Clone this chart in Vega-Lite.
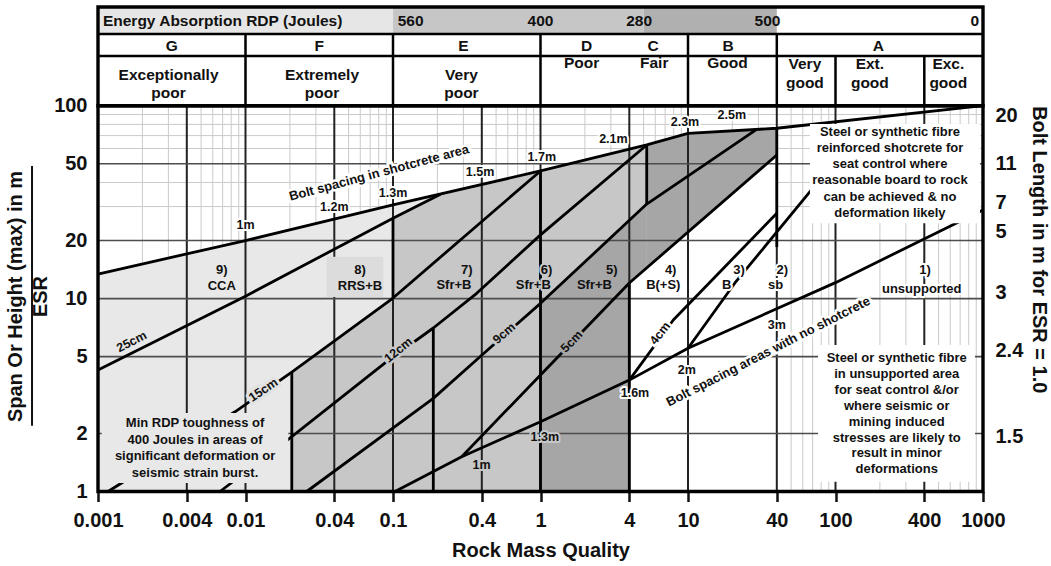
{
"$schema":"https://vega.github.io/schema/vega-lite/v6.json",
"width":885,"height":484.5,
"autosize":{"type":"none"},
"padding":{"left":98,"top":7,"right":68,"bottom":74.5},
"background":"white",
"config":{
 "view":{"stroke":null},
 "text":{"font":"Liberation Sans","fontWeight":"bold","fontSize":13,"align":"center","baseline":"middle","color":"#111"},
 "axis":{"labelFont":"Liberation Sans","labelFontWeight":"bold","labelFontSize":20,"labelColor":"#111","titleFont":"Liberation Sans","titleFontWeight":"bold","titleFontSize":20,"titleColor":"#111","grid":false,"domain":false}
},
"datasets":{
 "minorX":[{"Q":0.002},{"Q":0.003},{"Q":0.005},{"Q":0.006},{"Q":0.007},{"Q":0.008},{"Q":0.009},{"Q":0.02},{"Q":0.03},{"Q":0.05},{"Q":0.06},{"Q":0.07},{"Q":0.08},{"Q":0.09},{"Q":0.2},{"Q":0.3},{"Q":0.5},{"Q":0.6},{"Q":0.7},{"Q":0.8},{"Q":0.9},{"Q":2},{"Q":3},{"Q":5},{"Q":6},{"Q":7},{"Q":8},{"Q":9},{"Q":20},{"Q":30},{"Q":50},{"Q":60},{"Q":70},{"Q":80},{"Q":90},{"Q":200},{"Q":300},{"Q":500},{"Q":600},{"Q":700},{"Q":800},{"Q":900}],
 "majorX":[{"Q":0.004},{"Q":0.01},{"Q":0.04},{"Q":0.1},{"Q":0.4},{"Q":1},{"Q":4},{"Q":10},{"Q":40},{"Q":100},{"Q":400}],
 "minorY":[{"S":30},{"S":40},{"S":60},{"S":70},{"S":80},{"S":90}],
 "majorY":[{"S":2},{"S":5},{"S":10},{"S":20},{"S":50}],
 "lines":[
  {"id":"U","i":0,"Q":0.001,"S":13.41},{"id":"U","i":1,"Q":0.01,"S":20},{"id":"U","i":2,"Q":0.1,"S":30.6},{"id":"U","i":3,"Q":1,"S":45.9},{"id":"U","i":4,"Q":5.25,"S":62.6},{"id":"U","i":5,"Q":10,"S":71.9},{"id":"U","i":6,"Q":40,"S":76.4},{"id":"U","i":7,"Q":1000,"S":100},
  {"id":"L25","i":0,"Q":0.001,"S":4.26},{"id":"L25","i":1,"Q":0.01,"S":10.3},{"id":"L25","i":2,"Q":0.1,"S":26.1},{"id":"L25","i":3,"Q":0.21,"S":34.8},
  {"id":"L15","i":0,"Q":0.00117,"S":1},{"id":"L15","i":1,"Q":0.00849,"S":2.59},{"id":"L15","i":2,"Q":0.0206,"S":4.16},{"id":"L15","i":3,"Q":0.1,"S":10.07},{"id":"L15","i":4,"Q":1,"S":45.9},
  {"id":"L12","i":0,"Q":0.00672,"S":1},{"id":"L12","i":1,"Q":0.0206,"S":1.923},{"id":"L12","i":2,"Q":0.0906,"S":4.71},{"id":"L12","i":3,"Q":0.1876,"S":7.04},{"id":"L12","i":4,"Q":0.3694,"S":10.65},{"id":"L12","i":5,"Q":1,"S":21.4},{"id":"L12","i":6,"Q":5.25,"S":62.6},
  {"id":"L9","i":0,"Q":0.026,"S":1},{"id":"L9","i":1,"Q":0.1876,"S":3.04},{"id":"L9","i":2,"Q":0.389,"S":5.0},{"id":"L9","i":3,"Q":1,"S":9.45},{"id":"L9","i":4,"Q":5.25,"S":30.9},{"id":"L9","i":5,"Q":29.2,"S":75.4},
  {"id":"L5","i":0,"Q":0.2922,"S":1.515},{"id":"L5","i":1,"Q":1,"S":4.02},{"id":"L5","i":2,"Q":4,"S":12.05},{"id":"L5","i":3,"Q":40,"S":55.5},
  {"id":"L4","i":0,"Q":4,"S":3.78},{"id":"L4","i":1,"Q":7.95,"S":7.75},{"id":"L4","i":2,"Q":40,"S":27.7},
  {"id":"L23","i":0,"Q":10,"S":5.53},{"id":"L23","i":1,"Q":20.8,"S":12.05},{"id":"L23","i":2,"Q":74.9,"S":39.7},
  {"id":"LB","i":0,"Q":0.1032,"S":1},{"id":"LB","i":1,"Q":0.2922,"S":1.515},{"id":"LB","i":2,"Q":1,"S":2.3},{"id":"LB","i":3,"Q":4,"S":3.78},{"id":"LB","i":4,"Q":10,"S":5.53},{"id":"LB","i":5,"Q":100,"S":12.1},{"id":"LB","i":6,"Q":1000,"S":28.8},
  {"id":"V1","i":0,"Q":0.1,"S":26.1},{"id":"V1","i":1,"Q":0.1,"S":10.07},
  {"id":"V2","i":0,"Q":0.0206,"S":4.16},{"id":"V2","i":1,"Q":0.0206,"S":1},
  {"id":"V3","i":0,"Q":0.1876,"S":7.04},{"id":"V3","i":1,"Q":0.1876,"S":1},
  {"id":"V4","i":0,"Q":1,"S":45.9},{"id":"V4","i":1,"Q":1,"S":1},
  {"id":"V5","i":0,"Q":4,"S":12.05},{"id":"V5","i":1,"Q":4,"S":1},
  {"id":"V6","i":0,"Q":5.25,"S":62.6},{"id":"V6","i":1,"Q":5.25,"S":30.9},
  {"id":"V7","i":0,"Q":40,"S":76.4},{"id":"V7","i":1,"Q":40,"S":18.5}
 ],
 "fills":[
  {"zone":"light","part":"a","Q":0.001,"S":13.41},{"zone":"light","part":"a","Q":0.01,"S":20},{"zone":"light","part":"a","Q":0.1,"S":30.6},{"zone":"light","part":"a","Q":1,"S":45.9},{"zone":"light","part":"a","Q":5.25,"S":62.6},{"zone":"light","part":"a","Q":10,"S":71.9},{"zone":"light","part":"a","Q":40,"S":76.4},
  {"zone":"medium","part":"m1","Q":0.0206,"S":4.16},{"zone":"medium","part":"m1","Q":0.1,"S":10.07},
  {"zone":"medium","part":"m2","Q":0.1,"S":26.1},{"zone":"medium","part":"m2","Q":0.21,"S":34.8},{"zone":"medium","part":"m2","Q":1,"S":45.9},{"zone":"medium","part":"m2","Q":5.25,"S":62.6},
  {"zone":"dark","part":"d1","Q":1,"S":9.45},{"zone":"dark","part":"d1","Q":5.25,"S":30.9},
  {"zone":"dark","part":"d2","Q":5.25,"S":62.6},{"zone":"dark","part":"d2","Q":10,"S":71.9},{"zone":"dark","part":"d2","Q":29.2,"S":75.4},{"zone":"dark","part":"d2","Q":40,"S":76.4},
  {"zone":"white","part":"w","Q":4,"S":12.05},{"zone":"white","part":"w","Q":40,"S":55.5}
 ],
 "energy":[{"band":"a","Q1":0.001,"Q2":0.1},{"band":"b","Q1":0.1,"Q2":5},{"band":"c","Q1":5,"Q2":40}],
 "boxes":[{"box":"rdp","Q1":0.00106,"Q2":0.0195,"S1":1.107,"S2":2.55},{"box":"r1","Q1":67.1,"Q2":954,"S1":24.6,"S2":80.4},{"box":"r2","Q1":76.1,"Q2":883,"S1":1.124,"S2":5.75},{"box":"rrs","Q1":0.0355,"Q2":0.086,"S1":10.2,"S2":16.5}],
 "hsepV":[{"Q":0.01,"S1":100,"S2":235.3},{"Q":0.1,"S1":100,"S2":235.3},{"Q":1,"S1":100,"S2":235.3},{"Q":10,"S1":100,"S2":235.3},{"Q":40,"S1":100,"S2":235.3},{"Q":100,"S1":100,"S2":181},{"Q":400,"S1":100,"S2":181}],
 "hsepH":[{"S":235.3},{"S":181}],
 "borders":[{"Q1":0.001,"Q2":1000,"S1":1,"S2":100},{"Q1":0.001,"Q2":1000,"S1":100,"S2":324.9}],
 "rlabels":[
  {"t":"9)","Q":0.0069,"S":14.07,"zone":"light"},{"t":"CCA","Q":0.0069,"S":11.62,"zone":"light"},
  {"t":"8)","Q":0.0597,"S":14.07,"zone":"box"},{"t":"RRS+B","Q":0.0597,"S":11.62,"zone":"box"},
  {"t":"7)","Q":0.316,"S":14.07,"zone":"medium"},{"t":"Sfr+B","Q":0.259,"S":11.73,"zone":"medium"},
  {"t":"6)","Q":1.1,"S":14.07,"zone":"medium"},{"t":"Sfr+B","Q":0.894,"S":11.73,"zone":"medium"},
  {"t":"5)","Q":3.04,"S":14.07,"zone":"dark"},{"t":"Sfr+B","Q":2.32,"S":11.73,"zone":"dark"},
  {"t":"4)","Q":7.63,"S":14.07,"zone":"white"},{"t":"B(+S)","Q":6.8,"S":11.73,"zone":"white"},
  {"t":"3)","Q":22.2,"S":14.07,"zone":"white"},{"t":"B","Q":18.3,"S":11.73,"zone":"white"},
  {"t":"2)","Q":43.6,"S":14.07,"zone":"white"},{"t":"sb","Q":39.3,"S":11.73,"zone":"white"},
  {"t":"1)","Q":404,"S":14.07,"zone":"white"},{"t":"unsupported","Q":384,"S":11.28,"zone":"white"}
 ],
 "slabels":[
  {"t":"1m","Q":0.01,"S":24.07,"zone":"white"},{"t":"1.2m","Q":0.04,"S":29.95,"zone":"white"},{"t":"1.3m","Q":0.1,"S":35.4,"zone":"white"},{"t":"1.5m","Q":0.389,"S":45.5,"zone":"white"},{"t":"1.7m","Q":1.02,"S":54.0,"zone":"white"},{"t":"2.1m","Q":3.12,"S":66.9,"zone":"white"},{"t":"2.3m","Q":9.54,"S":82.6,"zone":"white"},{"t":"2.5m","Q":19.8,"S":89.5,"zone":"white"},
  {"t":"1m","Q":0.399,"S":1.372,"zone":"medium"},{"t":"1.3m","Q":1.07,"S":1.923,"zone":"medium"},{"t":"1.6m","Q":4.37,"S":3.23,"zone":"white"},{"t":"2m","Q":9.8,"S":4.26,"zone":"white"},{"t":"3m","Q":40,"S":7.3,"zone":"white"}
 ]
},
"layer":[
 {"resolve":{"scale":{"fill":"independent","stroke":"independent"}},
  "layer":[
   {"data":{"name":"minorY"},"mark":{"type":"rule","color":"#cacaca","strokeWidth":1},
    "encoding":{"y":{"field":"S","type":"quantitative","scale":{"type":"log","domain":[1,324.9],"nice":false,"zero":false},
      "axis":{"orient":"left","values":[1,2,5,10,20,50,100],"labelExpr":"'' + datum.value","ticks":false,"tickSize":0,"labelPadding":11,"labelOverlap":false,"labelFlush":false,"title":["Span Or Height (max) in m","ESR"],"titleLineHeight":25,"titleY":289,"titlePadding":3}},
     "x":{"datum":0.001},"x2":{"datum":1000}}},
   {"data":{"name":"minorX"},"mark":{"type":"rule","color":"#cacaca","strokeWidth":1},
    "encoding":{"x":{"field":"Q","type":"quantitative","scale":{"type":"log","domain":[0.001,1000],"nice":false,"zero":false},
      "axis":{"orient":"bottom","values":[0.001,0.004,0.01,0.04,0.1,0.4,1,4,10,40,100,400,1000],"labelExpr":"'' + datum.value","ticks":true,"tickSize":10,"tickWidth":2.5,"tickColor":"#111","labelPadding":9,"labelFlush":false,"labelOverlap":false,"title":"Rock Mass Quality","titlePadding":10}},
     "y":{"datum":1},"y2":{"datum":100}}},
   {"data":{"name":"fills"},"transform":[{"filter":"datum.zone === 'light'"}],"mark":{"type":"area","color":"#e8e8e8"},
    "encoding":{"x":{"field":"Q","type":"quantitative"},"y":{"field":"S","type":"quantitative","stack":null},"detail":{"field":"part","type":"nominal"}}},
   {"data":{"name":"fills"},"transform":[{"filter":"datum.zone === 'medium'"}],"mark":{"type":"area","color":"#c7c7c7"},
    "encoding":{"x":{"field":"Q","type":"quantitative"},"y":{"field":"S","type":"quantitative","stack":null},"detail":{"field":"part","type":"nominal"}}},
   {"data":{"name":"fills"},"transform":[{"filter":"datum.zone === 'dark'"}],"mark":{"type":"area","color":"#a6a6a6"},
    "encoding":{"x":{"field":"Q","type":"quantitative"},"y":{"field":"S","type":"quantitative","stack":null},"detail":{"field":"part","type":"nominal"}}},
   {"data":{"name":"fills"},"transform":[{"filter":"datum.zone === 'white'"}],"mark":{"type":"area","color":"#ffffff"},
    "encoding":{"x":{"field":"Q","type":"quantitative"},"y":{"field":"S","type":"quantitative","stack":null},"detail":{"field":"part","type":"nominal"}}},
   {"data":{"name":"energy"},"mark":{"type":"rect"},
    "encoding":{"x":{"field":"Q1","type":"quantitative"},"x2":{"field":"Q2"},"y":{"datum":235.3},"y2":{"datum":324.9},
     "fill":{"field":"band","type":"nominal","scale":{"domain":["a","b","c"],"range":["#e6e6e6","#c6c6c6","#b0b0b0"]},"legend":null}}},
   {"data":{"name":"majorX"},"mark":{"type":"rule","color":"#222","strokeWidth":2},
    "encoding":{"x":{"field":"Q","type":"quantitative"},"y":{"datum":1},"y2":{"datum":100}}},
   {"data":{"name":"majorY"},"mark":{"type":"rule","color":"#4d4d4d","strokeWidth":1.6},
    "encoding":{"y":{"field":"S","type":"quantitative"},"x":{"datum":0.001},"x2":{"datum":1000}}},
   {"data":{"name":"lines"},"mark":{"type":"line","color":"#000","strokeWidth":2.8,"strokeJoin":"round"},
    "encoding":{"x":{"field":"Q","type":"quantitative"},"y":{"field":"S","type":"quantitative"},"detail":{"field":"id","type":"nominal"},"order":{"field":"i","type":"quantitative"}}},
   {"data":{"name":"boxes"},"mark":{"type":"rect"},
    "encoding":{"x":{"field":"Q1","type":"quantitative"},"x2":{"field":"Q2"},"y":{"field":"S1","type":"quantitative"},"y2":{"field":"S2"},
     "fill":{"field":"box","type":"nominal","scale":{"domain":["rdp","r1","r2","rrs"],"range":["#e8e8e8","#ffffff","#ffffff","#dcdcdc"]},"legend":null}}},
   {"data":{"name":"hsepV"},"mark":{"type":"rule","color":"#000","strokeWidth":2.5},
    "encoding":{"x":{"field":"Q","type":"quantitative"},"y":{"field":"S1","type":"quantitative"},"y2":{"field":"S2"}}},
   {"data":{"name":"hsepH"},"mark":{"type":"rule","color":"#000","strokeWidth":2.5},
    "encoding":{"y":{"field":"S","type":"quantitative"},"x":{"datum":0.001},"x2":{"datum":1000}}},
   {"data":{"name":"borders"},"mark":{"type":"rect","filled":false,"stroke":"#000","strokeWidth":3.4},
    "encoding":{"x":{"field":"Q1","type":"quantitative"},"x2":{"field":"Q2"},"y":{"field":"S1","type":"quantitative"},"y2":{"field":"S2"}}},
   {"data":{"values":[{"t":"Energy Absorption RDP (Joules)","Q":0.00108,"S":274.8}]},"mark":{"type":"text","align":"left","fontSize":15.5},
    "encoding":{"x":{"field":"Q","type":"quantitative"},"y":{"field":"S","type":"quantitative"},"text":{"field":"t"}}},
   {"data":{"values":[{"t":"560","Q":0.1316,"S":274.8},{"t":"400","Q":1,"S":274.8},{"t":"280","Q":4.66,"S":274.8},{"t":"500","Q":34.6,"S":274.8}]},"mark":{"type":"text","fontSize":15.5},
    "encoding":{"x":{"field":"Q","type":"quantitative"},"y":{"field":"S","type":"quantitative"},"text":{"field":"t"}}},
   {"data":{"values":[{"t":"0","Q":940,"S":274.8}]},"mark":{"type":"text","align":"right","fontSize":15.5},
    "encoding":{"x":{"field":"Q","type":"quantitative"},"y":{"field":"S","type":"quantitative"},"text":{"field":"t"}}},
   {"data":{"values":[{"t":"G","Q":0.00316,"S":203.9},{"t":"F","Q":0.0316,"S":203.9},{"t":"E","Q":0.3,"S":203.9},{"t":"D","Q":2.05,"S":203.9},{"t":"C","Q":5.8,"S":203.9},{"t":"B","Q":18.7,"S":203.9},{"t":"A","Q":195,"S":203.9}]},"mark":{"type":"text","fontSize":15.5},
    "encoding":{"x":{"field":"Q","type":"quantitative"},"y":{"field":"S","type":"quantitative"},"text":{"field":"t"}}},
   {"data":{"values":[{"t":"Exceptionally\npoor","Q":0.00301,"S":144.8},{"t":"Extremely\npoor","Q":0.033,"S":144.8},{"t":"Very\npoor","Q":0.291,"S":144.8},{"t":"Poor","Q":1.9,"S":165.9},{"t":"Fair","Q":5.9,"S":165.9},{"t":"Good","Q":18.5,"S":165.9},{"t":"Very\ngood","Q":62,"S":164.5},{"t":"Ext.\ngood","Q":171,"S":164.5},{"t":"Exc.\ngood","Q":582,"S":164.5}]},
    "mark":{"type":"text","fontSize":15.5,"lineBreak":"\n","lineHeight":18.5},
    "encoding":{"x":{"field":"Q","type":"quantitative"},"y":{"field":"S","type":"quantitative"},"text":{"field":"t"}}},
   {"data":{"name":"rlabels"},"mark":{"type":"text","fontSize":13,"strokeWidth":4,"strokeJoin":"round"},
    "encoding":{"x":{"field":"Q","type":"quantitative"},"y":{"field":"S","type":"quantitative"},"text":{"field":"t"},
     "fill":{"field":"zone","type":"nominal","scale":{"domain":["light","medium","dark","white","box"],"range":["#e8e8e8","#c7c7c7","#a6a6a6","#ffffff","#dcdcdc"]},"legend":null},
     "stroke":{"field":"zone","type":"nominal","scale":{"domain":["light","medium","dark","white","box"],"range":["#e8e8e8","#c7c7c7","#a6a6a6","#ffffff","#dcdcdc"]},"legend":null}}},
   {"data":{"name":"rlabels"},"mark":{"type":"text","fontSize":13},
    "encoding":{"x":{"field":"Q","type":"quantitative"},"y":{"field":"S","type":"quantitative"},"text":{"field":"t"}}},
   {"data":{"name":"slabels"},"mark":{"type":"text","fontSize":12.5,"strokeWidth":4,"strokeJoin":"round"},
    "encoding":{"x":{"field":"Q","type":"quantitative"},"y":{"field":"S","type":"quantitative"},"text":{"field":"t"},
     "fill":{"field":"zone","type":"nominal","scale":{"domain":["light","medium","dark","white"],"range":["#e8e8e8","#c7c7c7","#a6a6a6","#ffffff"]},"legend":null},
     "stroke":{"field":"zone","type":"nominal","scale":{"domain":["light","medium","dark","white"],"range":["#e8e8e8","#c7c7c7","#a6a6a6","#ffffff"]},"legend":null}}},
   {"data":{"name":"slabels"},"mark":{"type":"text","fontSize":12.5},
    "encoding":{"x":{"field":"Q","type":"quantitative"},"y":{"field":"S","type":"quantitative"},"text":{"field":"t"}}},
   {"data":{"values":[{"t":"25cm","Q":0.00169,"S":5.98}]},"encoding":{"x":{"field":"Q","type":"quantitative"},"y":{"field":"S","type":"quantitative"},"text":{"field":"t"}},
    "layer":[{"mark":{"type":"text","angle":333,"fontSize":12.5,"fill":"#e8e8e8","stroke":"#e8e8e8","strokeWidth":4}},{"mark":{"type":"text","angle":333,"fontSize":12.5}}]},
   {"data":{"values":[{"t":"15cm","Q":0.0132,"S":3.36}]},"encoding":{"x":{"field":"Q","type":"quantitative"},"y":{"field":"S","type":"quantitative"},"text":{"field":"t"}},
    "layer":[{"mark":{"type":"text","angle":326,"fontSize":12.5,"fill":"#e2e2e2","stroke":"#e2e2e2","strokeWidth":6}},{"mark":{"type":"text","angle":326,"fontSize":12.5}}]},
   {"data":{"values":[{"t":"12cm","Q":0.1086,"S":5.41}]},"encoding":{"x":{"field":"Q","type":"quantitative"},"y":{"field":"S","type":"quantitative"},"text":{"field":"t"}},
    "layer":[{"mark":{"type":"text","angle":321,"fontSize":12.5,"fill":"#c7c7c7","stroke":"#c7c7c7","strokeWidth":5}},{"mark":{"type":"text","angle":321,"fontSize":12.5}}]},
   {"data":{"values":[{"t":"9cm","Q":0.5655,"S":6.61}]},"encoding":{"x":{"field":"Q","type":"quantitative"},"y":{"field":"S","type":"quantitative"},"text":{"field":"t"}},
    "layer":[{"mark":{"type":"text","angle":319,"fontSize":12.5,"fill":"#c7c7c7","stroke":"#c7c7c7","strokeWidth":5}},{"mark":{"type":"text","angle":319,"fontSize":12.5}}]},
   {"data":{"values":[{"t":"5cm","Q":1.627,"S":6.0}]},"encoding":{"x":{"field":"Q","type":"quantitative"},"y":{"field":"S","type":"quantitative"},"text":{"field":"t"}},
    "layer":[{"mark":{"type":"text","angle":314,"fontSize":12.5,"fill":"#a6a6a6","stroke":"#a6a6a6","strokeWidth":5}},{"mark":{"type":"text","angle":314,"fontSize":12.5}}]},
   {"data":{"values":[{"t":"4cm","Q":6.46,"S":6.61}]},"encoding":{"x":{"field":"Q","type":"quantitative"},"y":{"field":"S","type":"quantitative"},"text":{"field":"t"}},
    "layer":[{"mark":{"type":"text","angle":308,"fontSize":12.5,"fill":"#ffffff","stroke":"#ffffff","strokeWidth":5}},{"mark":{"type":"text","angle":308,"fontSize":12.5}}]},
   {"data":{"values":[{"t":"Bolt spacing in shotcrete area","Q":0.0804,"S":44.8}]},"encoding":{"x":{"field":"Q","type":"quantitative"},"y":{"field":"S","type":"quantitative"},"text":{"field":"t"}},
    "layer":[{"mark":{"type":"text","angle":345,"fill":"#ffffff","stroke":"#ffffff","strokeWidth":5}},{"mark":{"type":"text","angle":345}}]},
   {"data":{"values":[{"t":"Bolt spacing areas with no shotcrete","Q":35.0,"S":5.31}]},"encoding":{"x":{"field":"Q","type":"quantitative"},"y":{"field":"S","type":"quantitative"},"text":{"field":"t"}},
    "layer":[{"mark":{"type":"text","angle":333,"fill":"#ffffff","stroke":"#ffffff","strokeWidth":5}},{"mark":{"type":"text","angle":333}}]},
   {"data":{"values":[{"t":"Min RDP toughness of\n400 Joules in areas of\nsignificant deformation or\nseismic strain burst.","Q":0.00455,"S":2.257}]},
    "mark":{"type":"text","fontSize":13,"lineBreak":"\n","lineHeight":16.5},
    "encoding":{"x":{"field":"Q","type":"quantitative"},"y":{"field":"S","type":"quantitative"},"text":{"field":"t"}}},
   {"data":{"values":[{"t":"Steel or synthetic fibre\nreinforced shotcrete for\nseat control where\nreasonable board to rock\ncan be achieved & no\ndeformation likely","Q":234,"S":73.3}]},
    "mark":{"type":"text","fontSize":13,"lineBreak":"\n","lineHeight":16.2},
    "encoding":{"x":{"field":"Q","type":"quantitative"},"y":{"field":"S","type":"quantitative"},"text":{"field":"t"}}},
   {"data":{"values":[{"t":"Steel or synthetic fibre\nin unsupported area\nfor seat control &/or\nwhere seismic or\nmining induced\nstresses are likely to\nresult in minor\ndeformations","Q":260,"S":4.9}]},
    "mark":{"type":"text","fontSize":13,"lineBreak":"\n","lineHeight":15.85},
    "encoding":{"x":{"field":"Q","type":"quantitative"},"y":{"field":"S","type":"quantitative"},"text":{"field":"t"}}},
   {"data":{"values":[{}]},"mark":{"type":"rule","color":"#111","strokeWidth":2},
    "encoding":{"x":{"datum":0.000357},"y":{"datum":2.19},"y2":{"datum":48.7}}}
  ]},
 {"data":{"values":[{"S":1}]},"mark":{"type":"rule","opacity":0},
  "encoding":{"y":{"field":"S","type":"quantitative",
   "axis":{"orient":"right","values":[89.5,50.3,31.4,22.2,10.7,5.41,1.92],"labelExpr":"datum.value == 89.5 ? '20' : datum.value == 50.3 ? '11' : datum.value == 31.4 ? '7' : datum.value == 22.2 ? '5' : datum.value == 10.7 ? '3' : datum.value == 5.41 ? '2.4' : '1.5'","ticks":false,"tickSize":0,"labelPadding":12,"labelAlign":"left","labelOverlap":false,"labelFlush":false,"title":"Bolt Length in m for ESR = 1.0","titleAngle":90,"titlePadding":6}}}}
],
"resolve":{"axis":{"y":"independent"}}
}
